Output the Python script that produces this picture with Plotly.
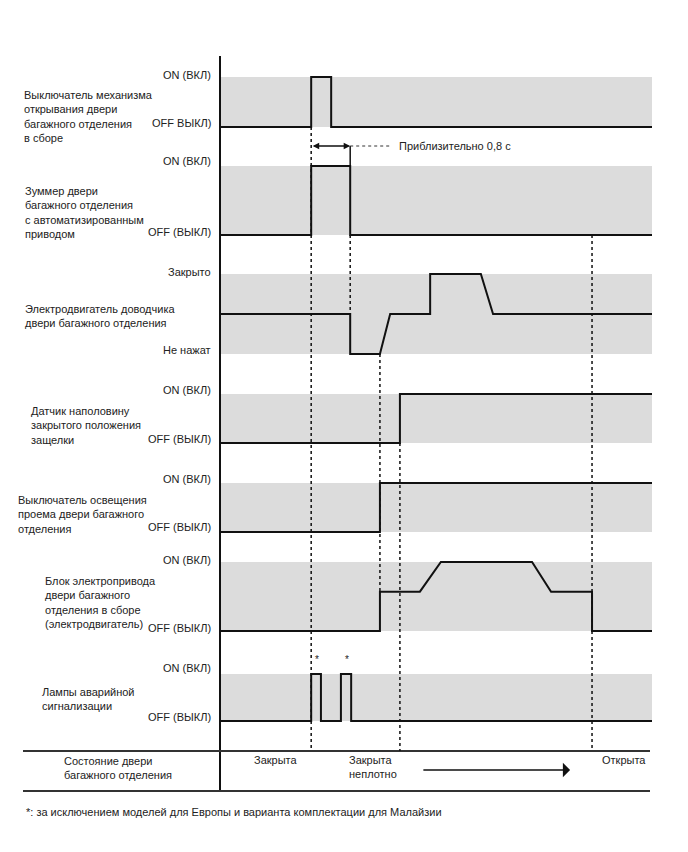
import plotly.graph_objects as go

# ---------------- data (time in seconds, levels 0 = OFF, 1 = ON) ----------------
T_END = 8.86

row_names = [
    "Выключатель механизма<br>открывания двери<br>багажного отделения<br>в сборе",
    "Зуммер двери<br>багажного отделения<br>с автоматизированным<br>приводом",
    "Электродвигатель доводчика<br>двери багажного отделения",
    "Датчик наполовину<br>закрытого положения<br>защелки",
    "Выключатель освещения<br>проема двери багажного<br>отделения",
    "Блок электропривода<br>двери багажного<br>отделения в сборе<br>(электродвигатель)",
    "Лампы аварийной<br>сигнализации",
]
row_top_labels = ["ON (ВКЛ)", "ON (ВКЛ)", "Закрыто", "ON (ВКЛ)", "ON (ВКЛ)", "ON (ВКЛ)", "ON (ВКЛ)"]
row_bottom_labels = ["OFF ВЫКЛ)", "OFF (ВЫКЛ)", "Не нажат", "OFF (ВЫКЛ)", "OFF (ВЫКЛ)", "OFF (ВЫКЛ)", "OFF (ВЫКЛ)"]

switch_t = [0, 1.87, 1.87, 2.28, 2.28, T_END]
switch_v = [0, 0, 1, 1, 0, 0]

buzzer_t = [0, 1.87, 1.87, 2.67, 2.67, T_END]
buzzer_v = [0, 0, 1, 1, 0, 0]

closer_t = [0, 2.67, 2.67, 3.28, 3.49, 4.31, 4.31, 5.35, 5.60, T_END]
closer_v = [0.5, 0.5, 0, 0, 0.5, 0.5, 1, 1, 0.5, 0.5]

halflatch_t = [0, 3.69, 3.69, T_END]
halflatch_v = [0, 0, 1, 1]

courtesy_t = [0, 3.28, 3.28, T_END]
courtesy_v = [0, 0, 1, 1]

motor_t = [0, 3.28, 3.28, 4.10, 4.53, 6.40, 6.79, 7.63, 7.63, T_END]
motor_v = [0, 0, 0.57, 0.57, 1, 1, 0.57, 0.57, 0, 0]

hazard_t = [0, 1.87, 1.87, 2.07, 2.07, 2.48, 2.48, 2.69, 2.69, T_END]
hazard_v = [0, 0, 1, 1, 0, 0, 1, 1, 0, 0]

signals = [(switch_t, switch_v), (buzzer_t, buzzer_v), (closer_t, closer_v),
           (halflatch_t, halflatch_v), (courtesy_t, courtesy_v),
           (motor_t, motor_v), (hazard_t, hazard_v)]

buzzer_duration_text = "Приблизительно 0,8 с"
state_labels = ["Закрыта", "Закрыта<br>неплотно", "Открыта"]
state_label_t = [0.66, 2.61, 7.79]
state_arrow_t = [4.14, 7.18]
hazard_star_t = [1.99, 2.60]
footnote = "*: за исключением моделей для Европы и варианта комплектации для Малайзии"

# ---------------- layout geometry (page pixels) ----------------
OFS = 8                      # default page body margin
W, H = 688 - 2 * OFS, 852 - 2 * OFS
X0, X1 = 220, 652
row_px = [(77, 127), (166, 235), (274, 354), (394, 443), (483, 532), (562, 631), (674, 721)]
top_label_y = [75, 161, 272, 390, 479, 560, 668]
bot_label_y = [123, 232, 350, 439, 527, 628, 717]
name_x = [22, 23, 23, 29, 16, 43, 40]
name_y = [116, 212, 316, 425, 514, 602, 699]

FONT = "Liberation Sans, Arial, sans-serif"
TXT = "#222222"
LINE = "#111111"
GRAY = "#dcdcdc"


def px(x):
    return (x - OFS) / W


def py(y):
    return 1 - (y - OFS) / H


fig = go.Figure()
layout = dict(
    width=W, height=H, margin=dict(l=0, r=0, t=0, b=0),
    paper_bgcolor="white", plot_bgcolor="rgba(0,0,0,0)",
    showlegend=False,
    xaxis=dict(domain=[px(X0), px(X1)], range=[0, T_END], visible=False, fixedrange=True),
    font=dict(family=FONT, size=11, color=TXT),
)

shapes = []
annotations = []
PAD = 0.1
for i, ((top, bot), (t, v)) in enumerate(zip(row_px, signals)):
    yname = "y" if i == 0 else f"y{i+1}"
    lname = "yaxis" if i == 0 else f"yaxis{i+1}"
    span = bot - top
    layout[lname] = dict(domain=[py(bot + PAD * span), py(top - PAD * span)],
                         range=[-PAD, 1 + PAD], visible=False, fixedrange=True)
    shapes.append(dict(type="rect", xref="x", yref=yname, x0=0, x1=T_END, y0=0, y1=1,
                       fillcolor=GRAY, line=dict(width=0), layer="below"))
    fig.add_trace(go.Scatter(x=t, y=v, xaxis="x", yaxis=yname, mode="lines",
                             line=dict(color=LINE, width=2), hoverinfo="skip"))
    annotations.append(dict(x=px(213), y=py(top_label_y[i]), xref="paper", yref="paper",
                            text=row_top_labels[i], showarrow=False, xanchor="right", yanchor="middle"))
    annotations.append(dict(x=px(213), y=py(bot_label_y[i]), xref="paper", yref="paper",
                            text=row_bottom_labels[i], showarrow=False, xanchor="right", yanchor="middle"))
    annotations.append(dict(x=px(name_x[i]), y=py(name_y[i]), xref="paper", yref="paper",
                            text=row_names[i], showarrow=False, xanchor="left", yanchor="middle",
                            align="left"))

# vertical axis line and status row lines
shapes.append(dict(type="line", xref="paper", yref="paper", x0=px(X0), x1=px(X0),
                   y0=py(56), y1=py(791), line=dict(color=LINE, width=2)))
for yy in (751, 791):
    shapes.append(dict(type="line", xref="paper", yref="paper", x0=px(23), x1=px(650),
                       y0=py(yy), y1=py(yy), line=dict(color="#333333", width=2)))

# dotted event lines (time from data, vertical extent in pixels)
dotted = [(switch_t[1], 127, 751), (buzzer_t[3], 235, 314), (courtesy_t[1], 354, 591),
          (halflatch_t[1], 443, 751), (motor_t[7], 235, 751)]
for tx, ya, yb in dotted:
    shapes.append(dict(type="line", xref="x", yref="paper", x0=tx, x1=tx, y0=py(ya), y1=py(yb),
                       line=dict(color=LINE, width=1.5, dash="dot")))

# 0.8 s dimension
shapes.append(dict(type="line", xref="x", yref="paper", x0=buzzer_t[3], x1=buzzer_t[3],
                   y0=py(146), y1=py(166), line=dict(color=LINE, width=1.5)))
shapes.append(dict(type="line", xref="x", yref="paper", x0=buzzer_t[3], x1=3.49,
                   y0=py(146), y1=py(146), line=dict(color="#333333", width=1, dash="3px,3px")))
annotations.append(dict(x=buzzer_t[3], y=py(146), xref="x", yref="paper",
                        ax=buzzer_t[1], ay=0, axref="x", ayref="pixel", text="",
                        showarrow=True, arrowhead=2, arrowside="end+start",
                        arrowsize=1, arrowwidth=1.3, arrowcolor=LINE, standoff=0, startstandoff=0))
annotations.append(dict(x=3.63, y=py(146), xref="x", yref="paper", text=buzzer_duration_text,
                        showarrow=False, xanchor="left", yanchor="middle"))

# hazard asterisks
for tx in hazard_star_t:
    annotations.append(dict(x=tx, y=py(659), xref="x", yref="paper", text="*",
                            showarrow=False, xanchor="center", yanchor="middle",
                            font=dict(size=10)))

# status row
annotations.append(dict(x=px(62), y=py(768), xref="paper", yref="paper",
                        text="Состояние двери<br>багажного отделения", showarrow=False,
                        xanchor="left", yanchor="middle", align="left"))
for tx, lab in zip(state_label_t, state_labels):
    annotations.append(dict(x=tx, y=py(752), xref="x", yref="paper", text=lab, showarrow=False,
                            xanchor="left", yanchor="top", align="left"))
annotations.append(dict(x=state_arrow_t[1], y=py(770), xref="x", yref="paper",
                        ax=state_arrow_t[0], ay=0, axref="x", ayref="pixel", text="",
                        showarrow=True, arrowhead=1, arrowsize=1.6, arrowwidth=1.5,
                        arrowcolor=LINE, standoff=0))

annotations.append(dict(x=px(24), y=py(812), xref="paper", yref="paper", text=footnote,
                        showarrow=False, xanchor="left", yanchor="middle", font=dict(size=11)))

layout["shapes"] = shapes
layout["annotations"] = annotations
fig.update_layout(**layout)
fig.write_html("out.html")
